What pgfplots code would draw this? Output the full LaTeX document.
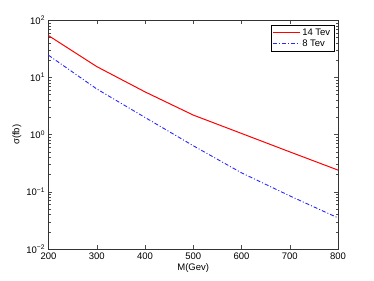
\documentclass[border=0pt]{standalone}
\usepackage{fontspec}
\setmainfont{Liberation Sans}
\usepackage{pgfplots}
\pgfplotsset{compat=1.18}
\begin{document}
\begin{tikzpicture}
\begin{axis}[
  scale only axis,
  width=289.5pt, height=228.7pt,
  ymode=log,
  xmin=200, xmax=800, ymin=1e-2, ymax=1e2,
  xtick={200,300,...,800},
  ytick={1e-2,1e-1,1,1e1,1e2},
  yticklabels={10\textsuperscript{\textminus2},10\textsuperscript{\textminus1},10\textsuperscript{0},10\textsuperscript{1},10\textsuperscript{2}},
  /pgf/number format/assume math mode=true,
  /pgf/number format/1000 sep={},
  tick label style={font=\fontsize{9.5}{11}\selectfont},
  label style={font=\fontsize{9.5}{11}\selectfont},
  xlabel={M(Gev)},
  ylabel={σ(fb)},
  xlabel style={yshift=3pt},
  ylabel style={yshift=-2pt},
  tick align=inside,
  major tick length=4pt, minor tick length=2.2pt,
  every tick/.style={black!70, line width=0.4pt},
  axis line style={black!80, line width=0.6pt},
  legend style={at={(0.986,0.978)}, anchor=north east,
    draw=black, inner sep=1.5pt, row sep=-1pt, cells={anchor=west},
    nodes={font=\fontsize{9.5}{11}\selectfont}},
  legend cell align=left,
  legend image code/.code={\draw[#1] (0pt,0.4pt) -- (27pt,0.4pt);},
]
\addplot[red, line width=1pt] coordinates {
 (200,54) (300,15.5) (400,5.6) (500,2.2) (600,1.05) (700,0.50) (800,0.24)};
\addlegendentry{14 Tev}
\addplot[blue!85!white, line width=0.9pt, dash pattern=on 4pt off 2pt on 1pt off 2pt] coordinates {
 (200,24.5) (300,6.3) (400,2.0) (500,0.64) (600,0.215) (700,0.085) (800,0.035)};
\addlegendentry{8 Tev}
\coordinate (ll) at (rel axis cs:0,0);
\coordinate (ur) at (rel axis cs:1,1);
\end{axis}
\useasboundingbox ([shift={(-48.5pt,-32pt)}]ll) rectangle ([shift={(36pt,20.3pt)}]ur);
\end{tikzpicture}
\end{document}
